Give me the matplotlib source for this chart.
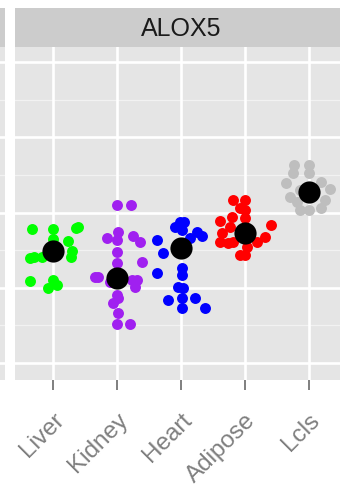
import numpy as np
import matplotlib
matplotlib.use("Agg")
import matplotlib.pyplot as plt

plt.rcParams['font.family'] = ['Liberation Sans', 'DejaVu Sans']

gene = "ALOX5"
tissues = ["Liver", "Kidney", "Heart", "Adipose", "Lcls"]
colors = ["#00FF00", "#A020F0", "#0000FF", "#FF0000", "#BEBEBE"]

# values per tissue (y), with the horizontal jitter
liver_y = [1.78, 1.78, 1.79, 1.81, 1.62, 1.65, 1.41, 1.40, 1.41, 1.49, 1.41, 1.09, 1.10, 1.00, 1.04, 1.47]
liver_dx = [-0.33, 0.0, 0.36, 0.39, 0.23, 0.0, -0.31, -0.36, -0.17, 0.30, 0.28, -0.36, 0.0, -0.09, 0.05, 0.0]
kidney_y = [2.10, 2.10, 1.74, 1.66, 1.63, 1.69, 1.61, 1.48, 1.34, 1.33, 1.14, 1.14, 1.10, 1.10, 1.01,
            1.08, 0.90, 0.86, 0.80, 0.66, 0.52, 0.52]
kidney_dx = [0.0, 0.22, 0.02, -0.16, 0.0, 0.25, 0.36, 0.0, 0.39, 0.0, -0.30, -0.34, 0.23, 0.31, 0.28,
             -0.11, 0.0, 0.02, -0.06, 0.02, 0.0, 0.20]
heart_y = [1.87, 1.87, 1.81, 1.77, 1.74, 1.69, 1.66, 1.63, 1.46, 1.26, 1.17, 1.20, 1.01, 1.00, 0.84,
           0.86, 0.86, 0.73, 0.73]
heart_dx = [-0.02, 0.05, -0.09, 0.02, 0.25, 0.33, 0.14, -0.38, -0.28, 0.02, 0.02, -0.38, -0.05, 0.03,
            -0.20, 0.02, 0.22, 0.02, 0.38]
adipose_y = [2.17, 2.17, 2.06, 2.03, 1.94, 1.93, 1.89, 1.81, 1.73, 1.61, 1.59, 1.61, 1.67, 1.83, 1.61,
             1.54, 1.44, 1.44]
adipose_dx = [-0.19, 0.0, -0.08, 0.0, -0.20, 0.0, -0.39, -0.23, -0.36, -0.39, -0.27, -0.19, 0.31, 0.41,
              0.19, 0.03, -0.08, 0.0]
lcls_y = [2.63, 2.63, 2.52, 2.52, 2.39, 2.41, 2.31, 2.21, 2.14, 2.03, 2.03, 2.06, 2.17, 2.30]
lcls_dx = [-0.23, 0.0, -0.25, 0.0, -0.36, 0.19, 0.33, -0.30, -0.19, -0.14, 0.0, 0.20, 0.25, -0.14]
group_means = [1.49, 1.13, 1.53, 1.73, 2.27]

values = [liver_y, kidney_y, heart_y, adipose_y, lcls_y]
jitter = [liver_dx, kidney_dx, heart_dx, adipose_dx, lcls_dx]

W, H = 340, 484
fig = plt.figure(figsize=(W / 100, H / 100), dpi=100)
fig.patch.set_facecolor("white")

pan_l, pan_r, pan_t, pan_b = 15, 347, 47, 380
ax = fig.add_axes([pan_l / W, 1 - pan_b / H, (pan_r - pan_l) / W, (pan_b - pan_t) / H])
ax.set_facecolor("#E5E5E5")
ax.set_xlim(0.4, 5.6)
ax.set_ylim(-0.226, 4.2)

for y in np.arange(0.5, 4.2, 1.0):
    ax.axhline(y, color="#F2F2F2", lw=0.9, zorder=0)
for y in range(0, 5):
    ax.axhline(y, color="white", lw=1.9, zorder=0)
for x in range(1, 6):
    ax.axvline(x, color="white", lw=1.9, zorder=0)

for i, (ys, dxs) in enumerate(zip(values, jitter)):
    xs = [i + 1 + d for d in dxs]
    ax.scatter(xs, ys, s=62, color=colors[i], linewidths=0, zorder=2)
ax.scatter(range(1, 6), group_means, s=255, color="black", linewidths=0, zorder=3)

for s in ax.spines.values():
    s.set_visible(False)
ax.set_yticks([])
ax.set_xticks(range(1, 6))
ax.set_xticklabels(tissues, rotation=45, ha="right", va="top", rotation_mode="anchor",
                   fontsize=17.5, color="#7F7F7F")
ax.tick_params(axis="x", length=7, width=1.4, color="#7F7F7F", pad=14)

# neighbouring facet, cut off at the left edge
ax0 = fig.add_axes([-20 / W, 1 - pan_b / H, 25 / W, (pan_b - pan_t) / H])
ax0.set_facecolor("#E5E5E5")
ax0.set_ylim(-0.226, 4.2)
for y in np.arange(0.5, 4.2, 1.0):
    ax0.axhline(y, color="#F2F2F2", lw=0.9)
for y in range(0, 5):
    ax0.axhline(y, color="white", lw=1.9)
ax0.set_xticks([])
ax0.set_yticks([])
for s in ax0.spines.values():
    s.set_visible(False)

# strips
strip_t = 8
sax = fig.add_axes([pan_l / W, 1 - pan_t / H, (pan_r - pan_l) / W, (pan_t - strip_t) / H])
sax.set_facecolor("#CCCCCC")
sax.set_xticks([])
sax.set_yticks([])
for s in sax.spines.values():
    s.set_visible(False)
sax.text(0.5, 0.45, gene, transform=sax.transAxes, ha="center", va="center",
         fontsize=18, color="#1A1A1A")

sax0 = fig.add_axes([-20 / W, 1 - pan_t / H, 25 / W, (pan_t - strip_t) / H])
sax0.set_facecolor("#CCCCCC")
sax0.set_xticks([])
sax0.set_yticks([])
for s in sax0.spines.values():
    s.set_visible(False)

fig.savefig("out.png", dpi=100)
